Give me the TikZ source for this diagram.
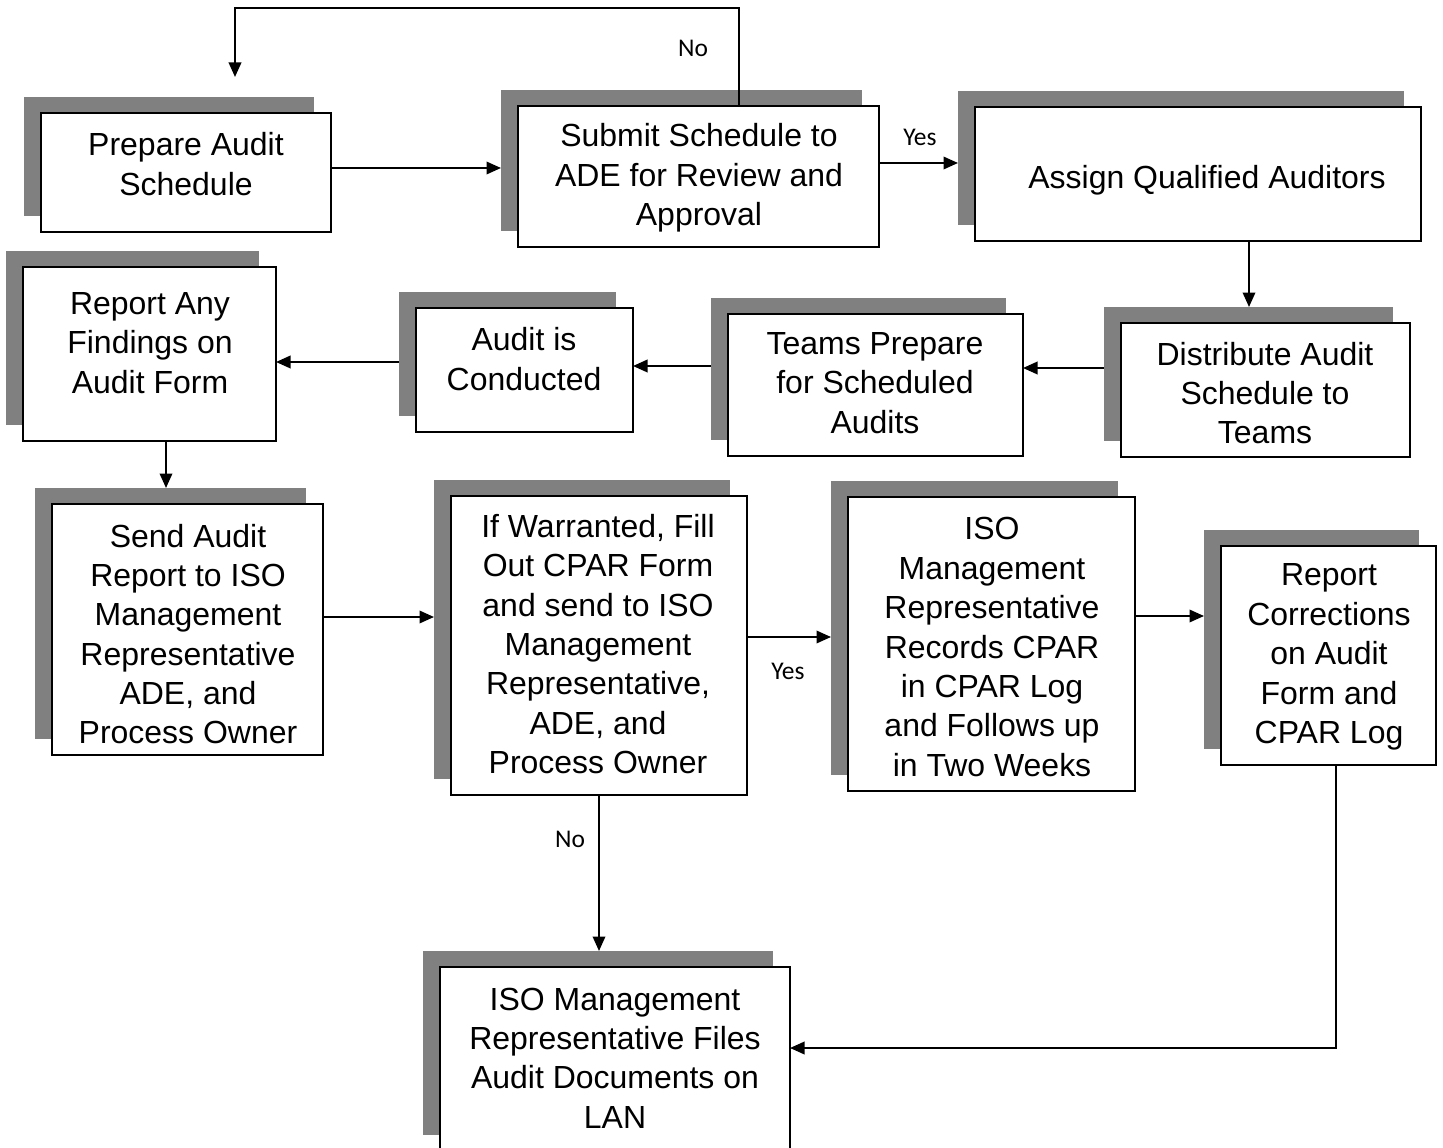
\documentclass[tikz,border=0pt]{standalone}
\usepackage{fontspec}
\setmainfont{Liberation Sans}
\newfontfamily\lblfont{Carlito}
\usetikzlibrary{arrows.meta,fit}
\definecolor{shade}{HTML}{808080}
\tikzset{
  shadowbox/.style={fill=shade, draw=none, inner sep=0pt, outer sep=0pt},
  frontbox/.style={fill=white, draw=black, line width=0.9pt, inner sep=0pt, outer sep=0pt},
  boxtext/.style={align=center, font=\fontsize{18.2}{22.4}\selectfont, inner sep=0pt},
  lbl/.style={font=\lblfont\fontsize{14.5}{17}\selectfont, inner sep=0pt},
  arr/.style={line width=1.1pt, -{Triangle[length=0.29cm,width=0.25cm]}},
}
% #1 name, #2-#5 front box corners (px), #6 text position, #7 text
\newcommand\flowbox[7]{%
  \node[shadowbox, fit={(#2-17,#3-16) (#4-17,#5-16)}] (#1s) {};
  \node[frontbox, fit={(#2,#3) (#4,#5)}] (#1) {};
  \node[boxtext] (#1t) at #6 {#7};
}
\begin{document}
\begin{tikzpicture}[x=0.02cm, y=-0.02cm]
\useasboundingbox (0,0) rectangle (1443,1148);
\clip (0,0) rectangle (1443,1148);
\fill[white] (0,0) rectangle (1443,1148);

\flowbox{prep}{41}{113}{331}{232}{(186,164)}{Prepare Audit\\Schedule}
\flowbox{sub}{518}{106}{879}{247}{(699,178)}{Submit Schedule to\\ADE for Review and\\Approval}
\flowbox{asg}{975}{107}{1421}{241}{(1207,180)}{Assign Qualified Auditors}
\flowbox{find}{23}{267}{276}{441}{(150,343)}{Report Any\\Findings on\\Audit Form}
\flowbox{cond}{416}{308}{633}{432}{(524,359)}{Audit is\\Conducted}
\flowbox{teams}{728}{314}{1023}{456}{(875,383)}{Teams Prepare\\for Scheduled\\Audits}
\flowbox{dist}{1121}{323}{1410}{457}{(1265,393)}{Distribute Audit\\Schedule to\\Teams}
\flowbox{send}{52}{504}{323}{755}{(188,634)}{Send Audit\\Report to ISO\\Management\\Representative\\ADE, and\\Process Owner}
\flowbox{cpar}{451}{496}{747}{795}{(598,644)}{If Warranted, Fill\\Out CPAR Form\\and send to ISO\\Management\\Representative,\\ADE, and\\Process Owner}
\flowbox{rec}{848}{497}{1135}{791}{(992,647)}{ISO\\Management\\Representative\\Records CPAR\\in CPAR Log\\and Follows up\\in Two Weeks}
\flowbox{corr}{1221}{546}{1436}{765}{(1329,657)}{Report\\Corrections\\on Audit\\Form and\\CPAR Log}
\flowbox{files}{440}{967}{790}{1151}{(615,1058)}{ISO Management\\Representative Files\\Audit Documents on\\LAN}

% connectors
\coordinate (loopend) at (235,77);
\draw[arr] (prep.east |- 0,168) -- (subs.west |- 0,168);
\draw[arr] (sub.north -| 739,0) -- (739,8) -- (235,8) -- (loopend);
\draw[arr] (sub.east |- 0,163) -- (asgs.west |- 0,163);
\draw[arr] (asg.south -| 1249,0) -- (dists.north -| 1249,0);
\draw[arr] (dists.west |- 0,368) -- (teams.east |- 0,368);
\draw[arr] (teamss.west |- 0,366) -- (cond.east |- 0,366);
\draw[arr] (conds.west |- 0,362) -- (find.east |- 0,362);
\draw[arr] (find.south -| 166,0) -- (sends.north -| 166,0);
\draw[arr] (send.east |- 0,617) -- (cpars.west |- 0,617);
\draw[arr] (cpar.east |- 0,637) -- (recs.west |- 0,637);
\draw[arr] (rec.east |- 0,616) -- (corrs.west |- 0,616);
\draw[arr] (cpar.south -| 599,0) -- (filess.north -| 599,0);
\draw[arr] (corr.south -| 1336,0) -- (1336,1048) -- (files.east |- 0,1048);

% branch labels
\node[lbl] (no1) at (693,48) {No};
\node[lbl] (yes1) at (920,137) {Yes};
\node[lbl] (yes2) at (788,671) {Yes};
\node[lbl] (no2) at (570,839) {No};
\end{tikzpicture}
\end{document}
